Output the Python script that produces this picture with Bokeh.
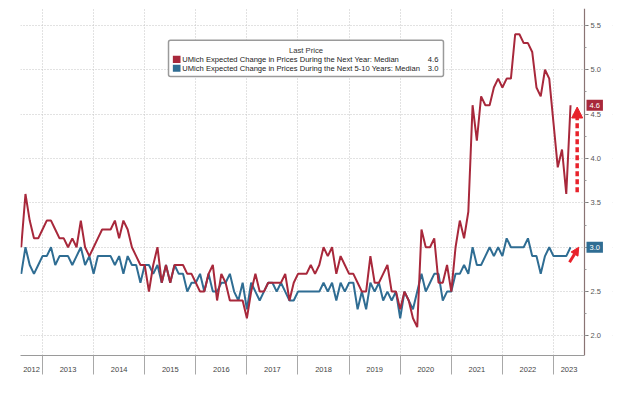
import pandas as pd
from bokeh.plotting import figure
from bokeh.embed import file_html
from bokeh.resources import INLINE
from bokeh.models import (Range1d, FixedTicker, SingleIntervalTicker, PrintfTickFormatter,
                          CustomJSTickFormatter, Label, BoxAnnotation, Arrow, NormalHead)

# ---------------- data (monthly, Jul 2012 .. Apr 2023) ----------------
start_month = "2012-07"
end_month = "2023-04"

one_year = [
    3.0, 3.6, 3.3, 3.1, 3.1, 3.2,                                   # 2012 H2
    3.3, 3.3, 3.2, 3.1, 3.1, 3.0, 3.1, 3.0, 3.3, 3.0, 2.9, 3.0,     # 2013
    3.1, 3.2, 3.2, 3.2, 3.3, 3.1, 3.3, 3.2, 3.0, 2.9, 2.8, 2.8,     # 2014
    2.5, 2.8, 3.0, 2.6, 2.8, 2.6, 2.8, 2.8, 2.8, 2.7, 2.7, 2.6,     # 2015
    2.5, 2.5, 2.7, 2.8, 2.4, 2.7, 2.6, 2.4, 2.4, 2.4, 2.4, 2.2,     # 2016
    2.5, 2.7, 2.5, 2.5, 2.6, 2.6, 2.6, 2.6, 2.7, 2.4, 2.6, 2.7,     # 2017
    2.7, 2.7, 2.8, 2.7, 2.8, 3.0, 2.9, 3.0, 2.7, 2.9, 2.8, 2.7,     # 2018
    2.7, 2.6, 2.5, 2.5, 2.9, 2.6, 2.6, 2.7, 2.8, 2.5, 2.5, 2.3,     # 2019
    2.5, 2.4, 2.2, 2.1, 3.2, 3.0, 3.0, 3.1, 2.6, 2.6, 2.8, 2.5,     # 2020
    3.0, 3.3, 3.1, 3.4, 4.6, 4.2, 4.7, 4.6, 4.6, 4.8, 4.9, 4.8,     # 2021
    4.9, 4.9, 5.4, 5.4, 5.3, 5.3, 5.2, 4.8, 4.7, 5.0, 4.9, 4.4,     # 2022
    3.9, 4.1, 3.6, 4.6,                                             # 2023
]
five_ten_year = [
    2.7, 3.0, 2.8, 2.7, 2.8, 2.9,                                   # 2012 H2
    2.9, 3.0, 2.8, 2.9, 2.9, 2.9, 2.8, 2.9, 3.0, 2.8, 2.9, 2.7,     # 2013
    2.9, 2.9, 2.9, 2.9, 2.8, 2.9, 2.7, 2.9, 2.8, 2.8, 2.6, 2.8,     # 2014
    2.8, 2.7, 2.8, 2.6, 2.8, 2.6, 2.8, 2.7, 2.7, 2.5, 2.6, 2.6,     # 2015
    2.7, 2.5, 2.7, 2.5, 2.5, 2.6, 2.6, 2.7, 2.5, 2.4, 2.6, 2.3,     # 2016
    2.6, 2.5, 2.4, 2.5, 2.6, 2.6, 2.5, 2.6, 2.5, 2.4, 2.4, 2.5,     # 2017
    2.5, 2.5, 2.5, 2.5, 2.5, 2.6, 2.5, 2.6, 2.4, 2.6, 2.5, 2.6,     # 2018
    2.6, 2.3, 2.5, 2.3, 2.6, 2.5, 2.6, 2.4, 2.5, 2.4, 2.5, 2.2,     # 2019
    2.5, 2.4, 2.3, 2.5, 2.7, 2.5, 2.6, 2.7, 2.7, 2.4, 2.5, 2.5,     # 2020
    2.7, 2.7, 2.8, 2.7, 3.0, 2.8, 2.8, 2.9, 3.0, 2.9, 3.0, 2.9,     # 2021
    3.1, 3.0, 3.0, 3.0, 3.0, 3.1, 2.9, 2.9, 2.7, 2.9, 3.0, 2.9,     # 2022
    2.9, 2.9, 2.9, 3.0,                                             # 2023
]
year_labels = list(range(2012, 2024))
legend_title = "Last Price"
series_names = ["UMich Expected Change in Prices During the Next Year: Median",
                "UMich Expected Change in Prices During the Next 5-10 Years: Median"]
last_values = [one_year[-1], five_ten_year[-1]]

RED = "#a8283b"
BLUE = "#2f6d93"
ARROW_RED = "#e8222b"
FONT = "Liberation Sans"

months = pd.period_range(start_month, end_month, freq="M")
xs = [m.year + m.month / 12.0 for m in months]   # plotted at month end

# layout (pixels) and ranges
BL, BR, BT, BB = 20, 28, 8, 31
FW, FH = 592, 347                 # frame includes the strip right of the value axis
PX_PER_YEAR = 51.1
x0 = 2012.5695
x1 = x0 + FW / PX_PER_YEAR
x_axis = x0 + 564 / PX_PER_YEAR   # where the value axis sits
y0, y1 = 1.78, 5.69

p = figure(width=BL + FW + BR, height=BT + FH + BB, output_backend="svg",
           toolbar_location=None,
           x_range=Range1d(x0, x1), y_range=Range1d(y0, y1),
           y_axis_location="right", min_border_left=BL, min_border_right=BR,
           min_border_top=BT, min_border_bottom=BB)
p.outline_line_color = None
p.background_fill_color = "white"

# grids
bounds = [y for y in year_labels if x0 < y < x_axis]
p.xgrid.ticker = FixedTicker(ticks=bounds)
for g in (p.xgrid, p.ygrid):
    g.grid_line_color = "#c4c4c4"
    g.grid_line_dash = "1 2"
    g.grid_line_width = 1
# blank the strip right of the value axis (covers grid there)
p.add_layout(BoxAnnotation(left=x_axis, fill_color="white", fill_alpha=1.0,
                           line_color=None, level="underlay"))

# x axis: year labels centred in visible part of each year, separators as minor ticks
mids = [(max(y, x0) + min(y + 1, x_axis)) / 2 for y in year_labels]
xa = p.xaxis[0]
xa.bounds = (x0, x_axis)
xa.ticker = FixedTicker(ticks=mids, minor_ticks=bounds)
xa.formatter = CustomJSTickFormatter(code="return Math.floor(tick).toString();")
xa.major_tick_line_color = None
xa.major_tick_in = 0
xa.major_tick_out = 0
xa.minor_tick_in = 0
xa.minor_tick_out = 19
xa.minor_tick_line_color = "#a8a8a8"
xa.axis_line_color = "#9a9a9a"
xa.major_label_standoff = -8
xa.major_label_text_font = FONT
xa.major_label_text_font_size = "7.5px"
xa.major_label_text_color = "#444444"

# value axis on the right, pinned at x_axis
ya = p.yaxis[0]
ya.fixed_location = x_axis
ya.ticker = SingleIntervalTicker(interval=0.5, num_minor_ticks=2)
ya.formatter = PrintfTickFormatter(format="%.1f")
ya.axis_line_color = "#8a7474"
ya.axis_line_width = 1.2
ya.major_tick_in = 0
ya.major_tick_out = 4
ya.minor_tick_in = 0
ya.minor_tick_out = 2
ya.major_tick_line_color = "#777777"
ya.minor_tick_line_color = "#999999"
ya.major_label_standoff = 2
ya.major_label_text_font = FONT
ya.major_label_text_font_size = "7.5px"
ya.major_label_text_color = "#555555"

# lines
p.line(xs, five_ten_year, line_color=BLUE, line_width=2)
p.line(xs, one_year, line_color=RED, line_width=2)

# arrows
last_x = xs[-1]
p.add_layout(Arrow(end=NormalHead(size=11, fill_color=ARROW_RED, line_color=ARROW_RED),
                   x_start=last_x + 0.13, y_start=3.62, x_end=last_x + 0.13, y_end=4.58,
                   line_color=ARROW_RED, line_width=3.5, line_dash="5 3"))
p.add_layout(Arrow(end=NormalHead(size=8, fill_color=ARROW_RED, line_color=ARROW_RED),
                   x_start=last_x - 0.02, y_start=2.83, x_end=last_x + 0.16, y_end=3.0,
                   line_color=ARROW_RED, line_width=3))

# last-value badges just right of the value axis
for val, col in zip(last_values, [RED, BLUE]):
    p.add_layout(Label(x=x_axis, y=val, x_offset=2, text=f"{val:.1f}", text_color="white",
                       text_font=FONT, text_font_size="7.5px", text_baseline="middle",
                       text_align="left", background_fill_color=col,
                       background_fill_alpha=1.0, padding=3))

# legend box
lx0, lx1, ly_top, ly_bot = 2015.466, 2020.847, 5.331, 4.925
p.add_layout(BoxAnnotation(left=lx0, right=lx1, top=ly_top, bottom=ly_bot,
                           fill_color="white", fill_alpha=1.0, line_color="#9a9a9a",
                           line_width=1.5, line_alpha=1.0, border_radius=2))
p.add_layout(Label(x=(lx0 + lx1) / 2, y=5.218, text=legend_title, text_align="center",
                   text_baseline="middle", text_font=FONT, text_font_size="7.7px",
                   text_color="#333333"))
row_y = [5.117, 5.016]
for name, val, col, ry in zip(series_names, last_values, [RED, BLUE], row_y):
    p.add_layout(BoxAnnotation(left=lx0 + 0.085, right=lx0 + 0.235, top=ry + 0.04,
                               bottom=ry - 0.04, fill_color=col, fill_alpha=1.0,
                               line_color=None))
    p.add_layout(Label(x=lx0 + 0.27, y=ry, text=name, text_align="left",
                       text_baseline="middle", text_font=FONT, text_font_size="7.6px",
                       text_color="#222222"))
    p.add_layout(Label(x=lx1 - 0.1, y=ry, text=f"{val:.1f}", text_align="right",
                       text_baseline="middle", text_font=FONT, text_font_size="7.6px",
                       text_color="#222222"))

open("out.html", "w").write(file_html(p, INLINE))
